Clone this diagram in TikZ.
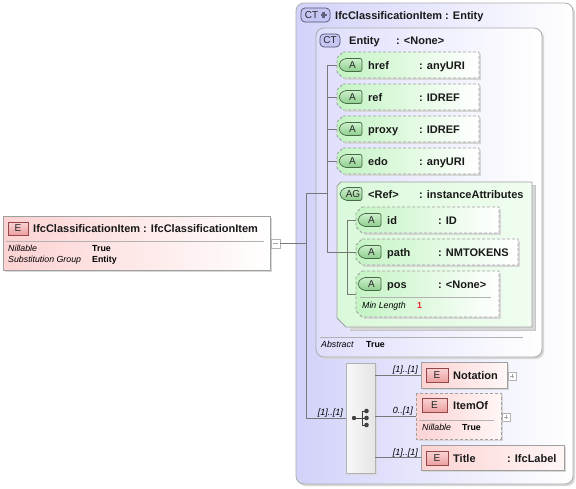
\documentclass[tikz,border=0pt]{standalone}
\usepackage{fontspec}
\setmainfont{Liberation Sans}
\usetikzlibrary{calc}
\definecolor{ctL}{RGB}{210,210,250}
\definecolor{ctL2}{RGB}{222,222,252}
\definecolor{attrL}{RGB}{196,244,196}
\definecolor{agL}{RGB}{218,249,218}
\definecolor{agR}{RGB}{240,253,240}
\definecolor{elL}{RGB}{252,210,210}
\definecolor{elR}{RGB}{255,246,246}
\definecolor{bord}{RGB}{160,160,160}
\definecolor{lineC}{RGB}{120,120,120}
\definecolor{ctbadgeF}{RGB}{198,198,244}
\definecolor{ctbadgeD}{RGB}{80,80,110}
\definecolor{abadgeT}{RGB}{205,240,205}
\definecolor{abadgeB}{RGB}{140,205,140}
\definecolor{abadgeD}{RGB}{70,105,70}
\definecolor{ebadgeT}{RGB}{250,212,212}
\definecolor{ebadgeB}{RGB}{236,160,160}
\definecolor{ebadgeD}{RGB}{150,70,70}
\definecolor{minred}{RGB}{230,40,40}
\definecolor{shad}{RGB}{215,215,215}

\newcommand\place[5]{\node[inner sep=0pt,outer sep=0pt,minimum width={(#4)-(#2)},minimum height={(#5)-(#3)},anchor=north west] (#1) at ({#2},{#3}) {};}
\newcommand\abadge[6]{%
  \path[draw=abadgeD,top color=abadgeT,bottom color=abadgeB,rounded corners=2pt,line width=.7pt] ({#2+5},{#3}) -- ({#4},{#3}) -- ({#4},{#5}) -- ({#2+5},{#5}) -- ({#2},{(#3+#5)/2+2}) -- ({#2},{(#3+#5)/2-2}) -- cycle;
  \node[bt] (#1) at ({(#2+#4)/2+2},{(#3+#5)/2}) {#6};}
\newcommand\ebadge[5]{%
  \path[draw=ebadgeD,top color=ebadgeT,bottom color=ebadgeB,line width=.7pt] ({#2},{#3}) rectangle ({#4},{#5});
  \node[bt] (#1) at ({(#2+#4)/2},{(#3+#5)/2}) {E};}
\newcommand\chbox[4]{%
  \fill[shad] ({#1+8},{#2+2}) -- ({#3+2},{#2+2}) -- ({#3+2},{#4+2}) -- ({#1+8},{#4+2}) -- cycle;
  \path[dbox,left color=attrL,right color=white] ({#1+6},{#2}) -- ({#3},{#2}) -- ({#3},{#4}) -- ({#1+6},{#4}) -- ({#1},{#4-6}) -- ({#1},{#2+6}) -- cycle;}
\newcommand\attrrow[7]{%
  \chbox{#2}{#3}{#4}{#5}
  \place{#1}{#2}{#3}{#4}{#5}
  \abadge{#1b}{#2+2}{#3+6.5}{#2+25}{#3+19.5}{A}
  \node[lbl] (#1n) at ({#2+31},{#3+17}) {#6};
  \node[lbl] (#1t) at ({#2+82},{#3+17}) {#7};}
\newcommand\plusbox[3]{%
  \place{#1}{#2}{#3}{#2+8}{#3+8}
  \draw[gray!60,fill=white] ({#2},{#3}) rectangle ({#2+8},{#3+8});
  \draw[gray!70] ({#2+2},{#3+4}) -- ({#2+6},{#3+4}) ({#2+4},{#3+2}) -- ({#2+4},{#3+6});}

\begin{document}
\begin{tikzpicture}[x=1pt,y=-1pt,
  lbl/.style={font=\fontsize{11}{13}\selectfont\bfseries,anchor=base west,inner sep=0pt,text=black!90},
  sm/.style={font=\fontsize{8.8}{10}\selectfont\itshape,anchor=base west,inner sep=0pt},
  smb/.style={font=\fontsize{8.8}{10}\selectfont\bfseries,anchor=base west,inner sep=0pt},
  bt/.style={font=\fontsize{10}{12}\selectfont,inner sep=0pt,text=black!85},
  conn/.style={draw=lineC,line width=0.7pt},
  dbox/.style={draw=bord,dash pattern=on 3pt off 2pt,line width=0.8pt},
  sbox/.style={draw=bord,line width=0.8pt},
  card/.style={font=\fontsize{9}{10}\selectfont\itshape,anchor=base east,inner sep=0pt}]
\useasboundingbox (0,0) rectangle (576,488);
\fill[white] (0,0) rectangle (576,488);

% ---------- outer complex type ----------
\fill[shad,rounded corners=8pt] (298,5) rectangle (575,486);
\draw[gray!65,line width=.8pt,rounded corners=8pt,left color=ctL,right color=white] (296,3) rectangle (573,484);
\place{outer}{296}{3}{573}{484}
\draw[ctbadgeD,fill=ctbadgeF,rounded corners=4pt,line width=.7pt] (301,8) rectangle (330,22);
\node[bt] (ctpB) at (311.5,15) {CT};
\draw[ctbadgeD!90,line width=2.4pt] (320.5,15) -- (326.5,15) (323.5,12) -- (323.5,18);
\node[lbl] (outerT) at (335,19) {IfcClassificationItem : Entity};

% ---------- inner complex type ----------
\fill[shad,rounded corners=8pt] (318,30) rectangle (544,359);
\draw[gray!65,line width=.8pt,rounded corners=8pt,left color=ctL2,right color=white] (316,28) rectangle (542,357);
\place{entity}{316}{28}{542}{357}
\draw[ctbadgeD,fill=ctbadgeF,rounded corners=4pt,line width=.7pt] (320,34) rectangle (340,47);
\node[bt] (ctB) at (330,40.5) {CT};
\node[lbl] (entN) at (349,44) {Entity};
\node[lbl] (entT) at (396,44) {: <None>};

% attributes
\attrrow{href}{337}{52}{479}{78}{href}{: anyURI}
\attrrow{ref}{337}{84}{479}{110}{ref}{: IDREF}
\attrrow{proxy}{337}{116}{479}{142}{proxy}{: IDREF}
\attrrow{edo}{337}{148}{479}{174}{edo}{: anyURI}

% attribute group
\fill[shad] (342,185) -- (535,185) -- (535,330) -- (350,330) -- cycle;
\draw[gray!45,line width=.8pt] (532,185) -- (535,185) -- (535,330) -- (350,330);
\path[sbox,left color=agL,right color=agR] (341,182) -- (532,182) -- (532,327) -- (346,327) -- (337,318) -- (337,186) -- cycle;
\place{ag}{337}{182}{532}{327}
\abadge{agB}{340}{187.5}{362}{200.5}{AG}
\node[lbl] (agN) at (368,198) {<Ref>};
\node[lbl] (agT) at (419,198) {: instanceAttributes};

\attrrow{id}{356}{207}{499}{233}{id}{: ID}
\attrrow{path}{356}{239}{518}{265}{path}{: NMTOKENS}
\chbox{356}{271}{499}{317}
\place{pos}{356}{271}{499}{317}
\abadge{posb}{358}{277.5}{381}{290.5}{A}
\node[lbl] (posn) at (387,288) {pos};
\node[lbl] (post) at (438,288) {: <None>};
\draw[gray!60] (360,297) -- (491,297);
\node[sm] (minL) at (362,308) {Min Length};
\node[smb,text=minred] (minV) at (417,308) {1};

\draw[gray!60] (320,337) -- (523,337);
\node[sm] (absL) at (321,347) {Abstract};
\node[smb] (absV) at (366,347) {True};

% ---------- left element ----------
\fill[shad] (5,218) rectangle (272,272);
\draw[sbox,left color=elL,right color=white] (3,216) rectangle (270,270);
\place{elem}{3}{216}{270}{270}
\ebadge{elemE}{8}{222}{28}{235}
\node[lbl] (elemT) at (33,232) {IfcClassificationItem : IfcClassificationItem};
\draw[gray!60] (6,241) -- (264,241);
\node[sm] (elNl) at (8,251) {Nillable};
\node[smb] (elNv) at (92,251) {True};
\node[sm] (elSl) at (8,262) {Substitution Group};
\node[smb] (elSv) at (92,262) {Entity};
\place{minus}{271}{239}{280}{248}
\draw[gray!60,fill=white] (271,239) rectangle (280,248);
\draw[gray!70] (273,243.5) -- (278,243.5);

% ---------- sequence ----------
\fill[shad] (348,365) rectangle (377,475);
\draw[gray!60,line width=.8pt,left color=gray!6,right color=gray!20] (346,363) rectangle (375,473);
\place{seq}{346}{363}{375}{473}
\begin{scope}[black!75,line width=1pt]
\draw (354,418) -- (362,418) (362,411) -- (362,425)
      (362,411) -- (366,411) (362,418) -- (366,418) (362,425) -- (366,425);
\fill (354,418) circle (2.2) (366.5,411) circle (2.3) (366.5,418) circle (2.3) (366.5,425) circle (2.3);
\end{scope}

% ---------- child elements ----------
\fill[shad] (423,364) rectangle (509,390);
\draw[sbox,left color=elL,right color=elR] (421,362) rectangle (507,388);
\place{notation}{421}{362}{507}{388}
\ebadge{notE}{426}{368}{448}{382}
\node[lbl] (notN) at (453,379) {Notation};
\plusbox{notP}{508}{372}

\fill[shad] (418,395) rectangle (503,441);
\path[dbox,left color=elL,right color=elR] (416,393) rectangle (501,439);
\place{itemof}{416}{393}{501}{439}
\ebadge{itE}{422}{398}{447}{412}
\node[lbl] (itN) at (453,409) {ItemOf};
\draw[gray!60] (419,420) -- (494,420);
\node[sm] (itNl) at (422,430) {Nillable};
\node[smb] (itNv) at (462,430) {True};
\plusbox{itP}{502}{413}

\fill[shad] (423,447) rectangle (566,472);
\draw[sbox,left color=elL,right color=elR] (421,445) rectangle (564,470);
\place{title}{421}{445}{564}{470}
\ebadge{tiE}{426}{451}{448}{465}
\node[lbl] (tiN) at (453,462) {Title};
\node[lbl] (tiT) at (507,462) {: IfcLabel};

% ---------- connectors ----------
\coordinate (jA) at (306,193);
\coordinate (jB) at (306,418);
\coordinate (tTop) at (327,65);
\coordinate (agx) at (347,220);
\draw[conn] (minus.east) -- (minus.east -| jA);
\draw[conn] (jA) -- (jB);
\draw[conn] (jA) -- (jA -| tTop);
\draw[conn] (tTop) -- (tTop |- path.west) -- (path.west);
\foreach \n in {href,ref,proxy,edo} \draw[conn] (\n.west -| tTop) -- (\n.west);
\draw[conn] (id.west -| agx) -- (pos.west -| agx);
\draw[conn] (id.west -| agx) -- (id.west);
\draw[conn] (pos.west -| agx) -- (pos.west);
\draw[conn] (jB) -- (seq.west);
\draw[conn] (seq.east |- notation.west) -- (notation.west);
\draw[conn] (seq.east |- itemof.west) -- (itemof.west);
\draw[conn] (seq.east |- title.west) -- (title.west);
\node[card] (c0) at (343,415) {[1]..[1]};
\node[card] (c1) at (418,372) {[1]..[1]};
\node[card] (c2) at (413,413) {0..[1]};
\node[card] (c3) at (418,455) {[1]..[1]};
\end{tikzpicture}
\end{document}
